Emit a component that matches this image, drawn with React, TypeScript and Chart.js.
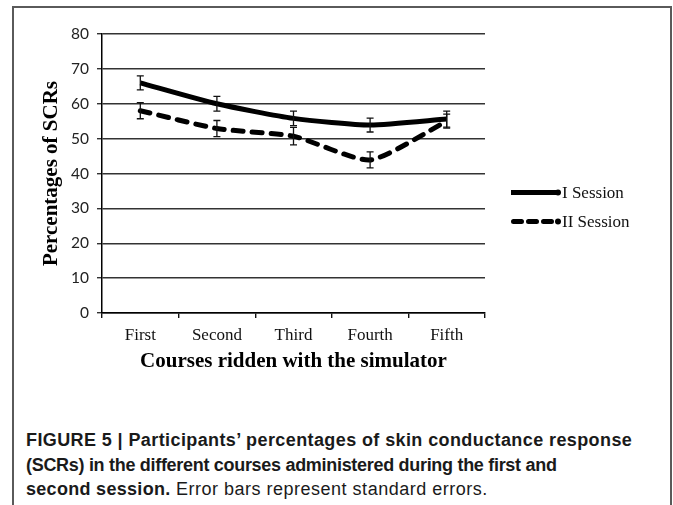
import React, { useEffect, useRef } from "react";
import { Chart, registerables } from "chart.js";

Chart.register(...registerables);

const categories = ["First", "Second", "Third", "Fourth", "Fifth"];
const seriesNames = ["I Session", "II Session"];
const session1 = [66, 60, 55.8, 53.9, 55.6];
const session1Err = [2, 2.1, 2.1, 2, 2.3];
const session2 = [58, 52.9, 50.7, 43.9, 55];
const session2Err = [2.3, 2.3, 2.5, 2.3, 2];
const yMin = 0;
const yMax = 80;
const yStep = 10;
const xTitle = "Courses ridden with the simulator";
const yTitle = "Percentages of SCRs";
const captionLine1 = "FIGURE 5 | Participants\u2019 percentages of skin conductance response";
const captionLine2 = "(SCRs) in the different courses administered during the first and";
const captionLine3Bold = "second session.";
const captionLine3Rest = " Error bars represent standard errors.";

const errors = [session1Err, session2Err];
const dashes: number[][] = [[], [10, 9]];

const errorBarPlugin = {
  id: "errorBars",
  afterDatasetsDraw(chart: any) {
    const ctx = chart.ctx;
    const xs = chart.scales.x;
    const ys = chart.scales.y;
    ctx.save();
    ctx.strokeStyle = "#111";
    ctx.lineWidth = 1.3;
    chart.data.datasets.forEach((ds: any, di: number) => {
      ds.data.forEach((v: number, i: number) => {
        const e = errors[di][i];
        const px = xs.getPixelForValue(i);
        const top = ys.getPixelForValue(v + e);
        const bot = ys.getPixelForValue(v - e);
        ctx.beginPath();
        ctx.moveTo(px, top);
        ctx.lineTo(px, bot);
        ctx.moveTo(px - 3.5, top);
        ctx.lineTo(px + 3.5, top);
        ctx.moveTo(px - 3.5, bot);
        ctx.lineTo(px + 3.5, bot);
        ctx.stroke();
      });
    });
    ctx.restore();
  },
};

const legendPlugin = {
  id: "customLegend",
  afterDraw(chart: any) {
    const ctx = chart.ctx;
    const x0 = 511;
    const x1 = 558;
    const ys = [192.5, 221.5];
    ctx.save();
    chart.data.datasets.forEach((ds: any, di: number) => {
      const y = ys[di];
      ctx.strokeStyle = "#000";
      ctx.fillStyle = "#000";
      ctx.lineWidth = 5;
      ctx.beginPath();
      if (di === 0) {
        ctx.lineCap = "butt";
        ctx.moveTo(x0, y);
        ctx.lineTo(x1, y);
      } else {
        ctx.lineCap = "round";
        ctx.setLineDash([8, 7]);
        ctx.moveTo(x0 + 2.5, y);
        ctx.lineTo(x1 - 6, y);
      }
      ctx.stroke();
      ctx.setLineDash([]);
      ctx.beginPath();
      ctx.arc(x1, y, 3, 0, Math.PI * 2);
      ctx.fill();
      ctx.font = '17px "Liberation Serif"';
      ctx.textBaseline = "middle";
      ctx.textAlign = "left";
      ctx.fillStyle = "#111";
      ctx.fillText(ds.label, 562, y + 1);
    });
    ctx.restore();
  },
};

function ChartCanvas() {
  const ref = useRef<HTMLCanvasElement | null>(null);
  useEffect(() => {
    if (!ref.current) return;
    const chart = new Chart(ref.current, {
      type: "line",
      data: {
        labels: categories,
        datasets: [
          {
            label: seriesNames[0],
            data: session1,
            borderColor: "#000",
            borderWidth: 5,
            pointRadius: 0,
            tension: 0.2,
            borderJoinStyle: "round",
            fill: false,
          },
          {
            label: seriesNames[1],
            data: session2,
            borderColor: "#000",
            borderWidth: 5,
            borderDash: dashes[1],
            borderCapStyle: "round",
            borderJoinStyle: "round",
            pointRadius: 0,
            tension: 0.2,
            fill: false,
          },
        ],
      },
      options: {
        responsive: false,
        animation: false,
        layout: { padding: { left: 35, top: 34, right: 188, bottom: 21.4 } },
        plugins: {
          legend: { display: false },
          tooltip: { enabled: false },
        },
        scales: {
          x: {
            type: "category",
            offset: true,
            grid: {
              offset: true,
              drawOnChartArea: false,
              drawTicks: true,
              tickLength: 5,
              color: "#111",
              lineWidth: 1.4,
            },
            border: { display: true, color: "#000", width: 1.5 },
            ticks: {
              padding: 7,
              color: "#111",
              font: { family: '"Liberation Serif"', size: 17 },
              maxRotation: 0,
            },
            title: {
              display: true,
              text: xTitle,
              color: "#000",
              font: { family: '"Liberation Serif"', size: 21, weight: "bold" },
              padding: { top: 4, bottom: 4 },
            },
            afterFit: (s: any) => {
              s.height = 65.6;
            },
          },
          y: {
            min: yMin,
            max: yMax,
            ticks: {
              stepSize: yStep,
              padding: 8,
              color: "#222",
              font: { family: "Lato", size: 15.5 },
            },
            grid: {
              color: "#333",
              lineWidth: 1.4,
              tickLength: 5,
            },
            border: { display: true, color: "#000", width: 1.5 },
            title: {
              display: true,
              text: yTitle,
              color: "#000",
              font: { family: '"Liberation Serif"', size: 21, weight: "bold" },
              padding: { top: 4, bottom: 4 },
            },
            afterFit: (s: any) => {
              s.width = 67;
            },
          },
        },
      },
      plugins: [errorBarPlugin, legendPlugin],
    } as any);
    return () => chart.destroy();
  }, []);
  return (
    <canvas
      ref={ref}
      width={673}
      height={400}
      style={{ position: "absolute", left: 0, top: 0, width: 673, height: 400 }}
    />
  );
}

export default function App() {
  const lineStyle: React.CSSProperties = {
    position: "absolute",
    left: 26,
    whiteSpace: "nowrap",
    fontFamily: '"Liberation Sans", Arial, sans-serif',
    fontSize: 18,
    lineHeight: "24px",
    color: "#1a1a1a",
  };
  return (
    <div
      style={{
        position: "fixed",
        left: 0,
        top: 0,
        width: 673,
        height: 505,
        overflow: "hidden",
        background: "#fff",
      }}
    >
      <div
        style={{
          position: "absolute",
          left: 12,
          top: 6,
          width: 656,
          height: 560,
          border: "2px solid #5a5a5a",
        }}
      />
      <ChartCanvas />
      <div style={{ ...lineStyle, top: 428, fontWeight: "bold", letterSpacing: "0.4px" }}>
        {captionLine1}
      </div>
      <div style={{ ...lineStyle, top: 452.5, fontWeight: "bold", letterSpacing: "-0.3px" }}>
        {captionLine2}
      </div>
      <div style={{ ...lineStyle, top: 477 }}>
        <span style={{ fontWeight: "bold", letterSpacing: "0.3px" }}>{captionLine3Bold}</span>
        <span style={{ letterSpacing: "0.5px" }}>{captionLine3Rest}</span>
      </div>
    </div>
  );
}
